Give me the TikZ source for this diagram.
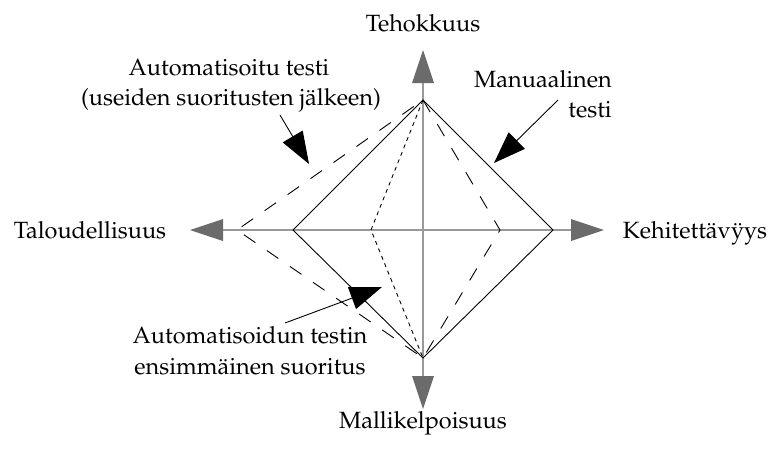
\documentclass[tikz,border=0pt]{standalone}
\usepackage[T1]{fontenc}
\usepackage{mathpazo}
\usetikzlibrary{arrows.meta}
\definecolor{axisline}{gray}{0.6}
\definecolor{axishead}{gray}{0.42}
\begin{document}
\begin{tikzpicture}[x=1pt,y=-1pt,
  axis/.style={draw=axisline, line width=1.6pt,
    >={Triangle[length=33pt,width=22pt,color=axishead,line width=0pt]}, <->},
  solidpoly/.style={draw=black, line width=0.9pt, line join=miter},
  dashpoly/.style={draw=black, line width=0.9pt, dash pattern=on 14pt off 14pt},
  dotpoly/.style={draw=black, line width=0.9pt, dash pattern=on 4pt off 4pt},
  callout/.style={draw=black, line width=0.9pt,
    -{Triangle[length=32pt,width=23pt]}},
  lbl/.style={inner sep=0pt, font=\fontsize{23.5}{29}\selectfont}
]
\useasboundingbox (0,0) rectangle (772,450);

% axis end points and origin
\coordinate (O)  at (423,230);
\coordinate (XL) at (190,230);
\coordinate (XR) at (604,230);
\coordinate (YT) at (423,50);
\coordinate (YB) at (423,409);

% vertices of the three profiles
\coordinate (T)  at (423,100);
\coordinate (B)  at (423,358);
\coordinate (Ls) at (293,230);
\coordinate (Rs) at (553,230);
\coordinate (Ld) at (237,230);
\coordinate (Rd) at (500,230);
\coordinate (Lp) at (371,230);

% axes
\draw[axis] (XL) -- (XR);
\draw[axis] (YT) -- (YB);

% manual test
\draw[solidpoly] (T) -- (Rs) -- (B) -- (Ls) -- cycle;
% automated test after several runs
\draw[dashpoly] (T) -- (Rd) -- (B) -- (Ld) -- cycle;
% first run of the automated test
\draw[dotpoly] (T) -- (Lp) -- (B);

% axis labels
\node[lbl, anchor=base] (teh) at (423,31) {Tehokkuus};
\node[lbl, anchor=base] (tal) at (90,238) {Taloudellisuus};
\node[lbl, anchor=base] (keh) at (695,238) {Kehitett\"av\"yys};
\node[lbl, anchor=base] (mal) at (423,428) {Mallikelpoisuus};

% profile labels
\node[lbl, anchor=base] (auto1) at (229,75) {Automatisoitu testi};
\node[lbl, anchor=base] (auto2) at (231,105) {(useiden suoritusten j\"alkeen)};
\node[lbl, anchor=base east] (man1) at (612,87) {Manuaalinen};
\node[lbl, anchor=base east] (man2) at (612,117) {testi};
\node[lbl, anchor=base] (first1) at (250,343) {Automatisoidun testin};
\node[lbl, anchor=base] (first2) at (250,374) {ensimm\"ainen suoritus};

% callout arrows
\coordinate (c1s) at (558,100);
\coordinate (c1t) at (494,163);
\coordinate (c2s) at (280,115);
\coordinate (c2t) at (309,164);
\coordinate (c3s) at (285,323);
\coordinate (c3t) at (382,287);
\draw[callout] (c1s) -- (c1t);
\draw[callout] (c2s) -- (c2t);
\draw[callout] (c3s) -- (c3t);
\end{tikzpicture}
\end{document}
